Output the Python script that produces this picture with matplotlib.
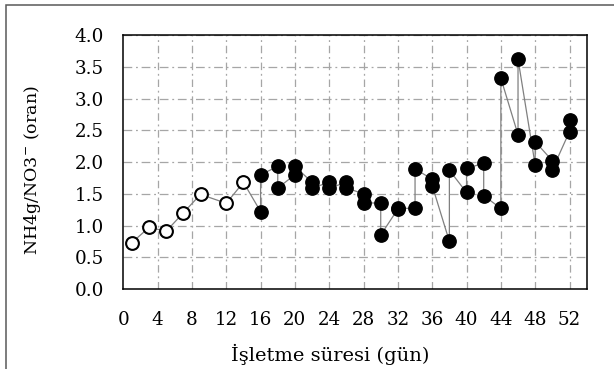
import numpy as np
import matplotlib as mpl
import matplotlib.pyplot as plt
from matplotlib.patches import Rectangle

plt.rcParams['font.family'] = ['DejaVu Serif', 'DejaVu Sans']
plt.rcParams['mathtext.fontset'] = 'dejavuserif'

# open circles: first days (one value per sampling day)
days_open = [1, 3, 5, 7, 9, 12, 14]
ratio_open = [0.73, 0.97, 0.91, 1.20, 1.49, 1.35, 1.68]

# filled circles: two values per sampling day, in the order they are joined
days_fill = [16, 16, 18, 18, 20, 20, 22, 22, 24, 24, 26, 26, 28, 28,
             30, 30, 32, 32, 34, 34, 36, 36, 38, 38, 40, 40, 42, 42,
             44, 44, 46, 46, 48, 48, 50, 50, 52, 52]
ratio_fill = [1.22, 1.80, 1.93, 1.59, 1.80, 1.93, 1.68, 1.59, 1.68, 1.59,
              1.68, 1.59, 1.50, 1.36, 1.35, 0.85, 1.26, 1.27, 1.27, 1.89,
              1.73, 1.63, 0.75, 1.87, 1.52, 1.90, 1.98, 1.47, 1.27, 3.32,
              2.43, 3.62, 1.95, 2.32, 2.02, 1.88, 2.48, 2.66]

x_ticks = np.arange(0, 53, 4)
y_ticks = np.arange(0, 4.01, 0.5)

fig = plt.figure(figsize=(6.14, 3.69), dpi=100)
ax = fig.add_axes([0.2008, 0.2168, 0.7547, 0.6883])

# chart area border (cut off at the right and bottom)
fig.patches.append(Rectangle((6 / 614, -0.2), 1.2, 1.2 - 5 / 369,
                             transform=fig.transFigure, fill=False,
                             edgecolor='#595959', lw=1.1))

# joining line through all points
ax.plot(days_open + days_fill, ratio_open + ratio_fill, color='#808080',
        lw=0.9, zorder=3)
ax.plot(days_fill, ratio_fill, ls='none', marker='o', ms=9.6,
        mfc='black', mec='black', zorder=4, clip_on=False)
ax.plot(days_open, ratio_open, ls='none', marker='o', ms=9.2,
        mfc='white', mec='black', mew=1.5, zorder=5, clip_on=False)

ax.set_xlim(0, 54)
ax.set_ylim(0, 4)
ax.set_xticks(x_ticks)
ax.set_yticks(y_ticks)
ax.yaxis.set_major_formatter(mpl.ticker.FormatStrFormatter('%.1f'))
ax.tick_params(length=0, labelsize=13.2, pad=14)
ax.tick_params(axis='x', pad=16)

for y in y_ticks[1:]:
    ax.axhline(y, color='#a6a6a6', lw=0.9, dashes=(7, 3, 1.5, 3), zorder=1)
for x in x_ticks[1:]:
    ax.axvline(x, color='#a6a6a6', lw=0.9, dashes=(6, 3, 1.5, 3), zorder=1)

for s in ax.spines.values():
    s.set_linewidth(1.1)
    s.set_color('black')

fig.text(330 / 614, 0.04, 'İşletme süresi (gün)', ha='center', va='center',
         fontsize=14)
fig.text(33 / 614, 0.539, r'NH4g/NO3$^{-}$ (oran)', ha='center',
         va='center', rotation=90, fontsize=12.5)

fig.savefig('out.png', dpi=100)
